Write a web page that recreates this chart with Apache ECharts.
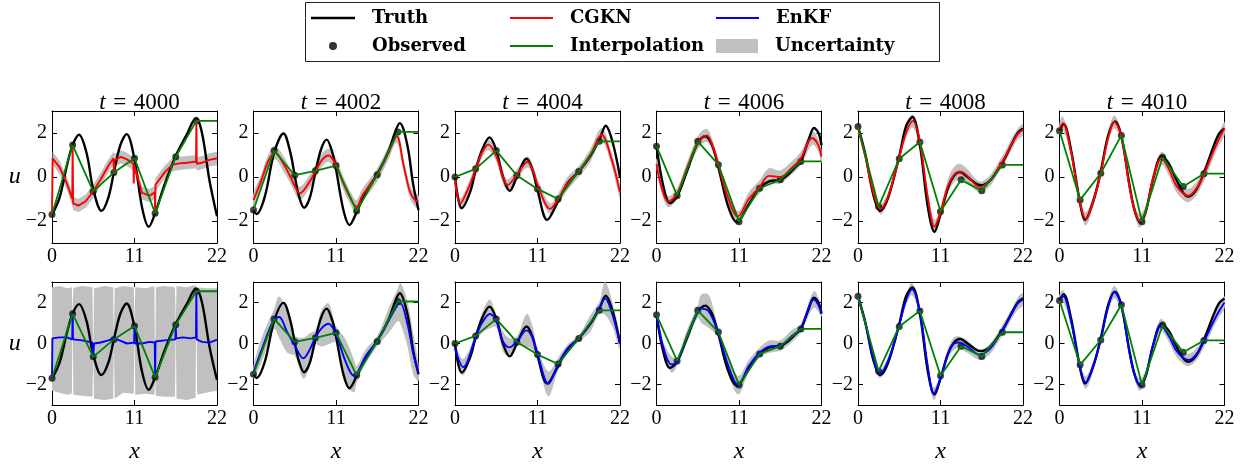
<!DOCTYPE html>
<html><head><meta charset="utf-8">
<script src="https://cdn.jsdelivr.net/npm/echarts@6/dist/echarts.min.js"></script>
<style>html,body{margin:0;padding:0;background:#fff}#c{width:1247px;height:465px}</style>
</head><body><div id="c"></div>
<script>
// ---------------- DATA ----------------
const times = [4000, 4002, 4004, 4006, 4008, 4010];
const xTicks = [0, 11, 22];
const yTicks = [-2, 0, 2];
const xMax = 22;
const obsX = [0, 2.75, 5.5, 8.25, 11, 13.75, 16.5, 19.25];

const obs4000 = [-1.7, 1.45, -0.65, 0.2, 0.85, -1.65, 0.92, 2.55];
const obs4002 = [-1.5, 1.2, 0.08, 0.28, 0.52, -1.55, 0.1, 2.05];
const obs4004 = [0.0, 0.37, 1.2, 0.07, -0.54, -1.0, 0.25, 1.62];
const obs4006 = [1.4, -0.85, 1.62, 0.56, -2.03, -0.51, -0.13, 0.71];
const obs4008 = [2.3, -1.35, 0.83, 1.59, -1.57, -0.13, -0.63, 0.55];
const obs4010 = [2.1, -1.04, 0.17, 1.89, -2.03, 0.9, -0.43, 0.15];

const truth4000 = [[0,-1.72],[1,-0.95],[2,0.54],[2.75,1.45],[3.6,1.92],[4.6,1.1],[5.5,-0.55],[6.6,-1.54],[7.5,-0.95],[8.25,0.2],[9.1,1.44],[9.95,1.95],[11,0.8],[12,-1.37],[12.9,-2.26],[13.75,-1.65],[15,-0.35],[16.5,0.95],[18,1.95],[19.2,2.68],[20,2.0],[21,-0.16],[22,-1.78]];
const truth4002 = [[0,-1.5],[0.4,-1.68],[1.5,-0.9],[2.75,1.1],[4.0,1.98],[4.9,1.13],[5.5,0.05],[6.0,-0.79],[6.75,-1.4],[7.5,-0.95],[8.25,0.2],[9,1.25],[9.75,1.7],[10.5,1.13],[11,0.35],[12,-1.52],[12.8,-2.18],[13.75,-1.6],[15,-0.66],[16.5,0.13],[18,1.16],[19,2.15],[19.5,2.45],[20.5,1.47],[21.3,-0.36],[22,-1.5]];
const truth4004 = [[0,0.0],[0.9,-1.42],[2,-0.7],[2.75,0.3],[3.6,1.22],[4.6,1.8],[5.5,1.22],[6.4,0.0],[7.3,-0.63],[8.25,0.0],[9.55,0.83],[10.3,0.36],[11,-0.6],[12.3,-1.95],[13.75,-1.1],[15,-0.28],[16.5,0.25],[18,0.93],[19.25,1.7],[20.1,2.33],[21,1.6],[22,0.0]];
const truth4006 = [[0,1.4],[0.9,-0.4],[1.8,-1.19],[2.75,-0.88],[4,0.2],[5.5,1.55],[6.5,1.85],[7.4,1.45],[8.25,0.45],[9.5,-1.28],[10.7,-2.06],[11,-2.03],[12.3,-1.25],[13.75,-0.51],[15,-0.2],[16.5,-0.13],[17.5,0.1],[18.5,0.45],[19.25,0.71],[20.2,1.6],[21,2.23],[21.6,2.0],[22,1.45]];
const truth4008 = [[0,2.3],[1,1.0],[2,-0.75],[2.95,-1.54],[4,-0.96],[5.5,0.95],[6.4,2.3],[7.25,2.73],[8.25,1.45],[9.3,-1.34],[10.2,-2.49],[11,-1.7],[12,-0.5],[12.8,0.05],[13.6,0.22],[14.6,0.0],[16.0,-0.35],[16.5,-0.37],[17.5,-0.2],[18.5,0.25],[19.5,0.8],[20.5,1.5],[21.3,2.0],[22,2.2]];
const truth4010 = [[0,2.1],[0.55,2.41],[1.5,1.3],[2.75,-1.2],[3.4,-1.95],[4.5,-1.1],[5.5,0.25],[6.5,1.9],[7.4,2.53],[8.25,1.84],[9.3,-0.3],[10,-1.5],[10.75,-2.06],[11.5,-1.58],[12.5,-0.06],[13.6,0.93],[14.6,0.6],[15.5,-0.07],[16.5,-0.72],[17.2,-0.89],[18.2,-0.6],[19.25,0.17],[20.5,1.36],[21.3,1.98],[22,2.2]];

// estimates: [x, mean, sd]  (sd null = assimilation spike, not part of the band)
const cgkn4000 = [[0,-1.7,null],[0.08,0.85,0.3],[1,0.45,0.3],[2,-0.3,0.3],[2.7,-1.0,0.3],[2.75,1.45,null],[2.82,-1.2,0.3],[3.5,-1.3,0.3],[4.5,-1.1,0.3],[5.5,-0.65,0.3],[6.5,-0.1,0.3],[7.5,0.5,0.3],[8.2,0.85,0.3],[8.25,0.2,null],[8.3,0.75,0.3],[9.2,0.92,0.3],[10,0.8,0.3],[10.85,0.6,0.3],[10.9,-0.3,null],[10.95,0.55,0.3],[12,-0.72,0.3],[13,-0.85,0.3],[13.7,-0.7,0.3],[13.75,-1.65,null],[13.8,-0.35,0.3],[15,0.2,0.3],[16,0.55,0.3],[17,0.62,0.3],[18,0.65,0.3],[19.2,0.7,0.3],[19.25,2.55,null],[19.3,0.6,0.3],[20,0.65,0.3],[21,0.78,0.3],[22,0.85,0.3]];
const cgkn4002 = [[0,-1.05,0.3],[1,-0.2,0.3],[2,0.75,0.3],[2.9,1.1,0.3],[4,0.6,0.35],[5,-0.05,0.3],[5.4,-0.35,0.3],[6.2,-0.74,0.3],[7.5,-0.2,0.3],[8.25,0.25,0.3],[9.2,0.8,0.3],[10,0.98,0.3],[11,0.55,0.3],[12,-0.3,0.3],[13.3,-1.2,0.3],[13.75,-1.35,0.3],[14.5,-0.85,0.3],[16.5,0.1,0.3],[18,1.1,0.3],[19.1,1.85,0.3],[20,0.55,0.3],[20.85,-0.66,0.3],[21.5,-1.04,0.3],[22,-1.12,0.3]];
const cgkn4004 = [[0,-0.13,0.25],[0.7,-1.2,0.25],[1.8,-0.5,0.25],[2.75,0.35,0.25],[3.6,1.1,0.25],[4.45,1.47,0.25],[5.5,0.95,0.25],[6.3,0.1,0.3],[7.0,-0.36,0.25],[8.25,0.1,0.25],[9.65,0.68,0.25],[10.5,0.2,0.25],[11,-0.35,0.25],[12.7,-1.45,0.25],[13.75,-1.0,0.25],[15,-0.3,0.3],[16.5,0.25,0.25],[18,0.95,0.3],[19.55,1.92,0.3],[20.8,0.9,0.3],[22,-0.69,0.3]];
const cgkn4006 = [[0,0.6,0.25],[0.7,-0.5,0.25],[1.55,-1.12,0.25],[2.75,-0.75,0.25],[4,0.35,0.25],[5.5,1.55,0.3],[6.7,1.89,0.3],[7.6,1.3,0.25],[8.25,0.55,0.25],[9.5,-0.9,0.25],[10.85,-1.8,0.25],[12.3,-1.0,0.3],[13.75,-0.45,0.3],[15,0.05,0.35],[16.5,0.0,0.3],[18,0.4,0.3],[19.25,0.85,0.3],[20.75,1.77,0.3],[21.5,1.5,0.3],[22,0.93,0.3]];
const cgkn4008 = [[0,2.25,0.2],[1,0.9,0.2],[2,-0.65,0.2],[3,-1.45,0.25],[4,-0.9,0.2],[5.5,0.9,0.2],[6.4,2.0,0.25],[7.3,2.55,0.3],[8.25,1.6,0.25],[9.3,-0.9,0.25],[10.2,-2.25,0.3],[11,-1.6,0.25],[12,-0.4,0.3],[12.8,0.1,0.35],[13.6,0.25,0.35],[14.6,0.05,0.3],[16.2,-0.45,0.25],[17.5,-0.2,0.25],[18.5,0.3,0.25],[19.5,0.85,0.25],[20.5,1.5,0.25],[21.3,1.95,0.25],[22,2.15,0.25]];
const cgkn4010 = [[0,2.2,0.25],[0.45,2.45,0.3],[1.5,1.2,0.25],[2.75,-1.2,0.25],[3.5,-1.9,0.3],[4.5,-1.1,0.25],[5.5,0.2,0.25],[6.5,1.8,0.25],[7.3,2.5,0.3],[8.25,1.85,0.25],[9.3,-0.4,0.25],[10,-1.5,0.25],[10.7,-2.0,0.3],[11.5,-1.55,0.25],[12.5,-0.05,0.25],[13.6,0.85,0.3],[14.6,0.35,0.3],[15.5,-0.35,0.3],[16.5,-0.75,0.3],[17.2,-0.85,0.3],[18.2,-0.55,0.3],[19.25,0.1,0.3],[20.5,1.15,0.3],[21.3,1.75,0.3],[22,2.2,0.3]];

const enkf4000 = [[0,-1.7,null],[0.05,0.25,null],[1,0.3,null],[2,0.3,null],[2.7,0.2,null],[2.75,1.45,null],[2.8,0.2,null],[4,0.15,null],[5.4,0.05,null],[5.5,-0.6,null],[5.6,0.0,null],[6.5,0.05,null],[7.5,0.15,null],[8.25,0.25,null],[9,0.15,null],[10,0.0,null],[10.95,0.04,null],[11,0.85,null],[11.05,0.0,null],[12,0.0,null],[13,0.08,null],[13.7,0.05,null],[13.75,-1.65,null],[13.8,0.1,null],[15,0.15,null],[16.45,0.2,null],[16.5,0.9,null],[16.55,0.25,null],[17.5,0.3,null],[18.5,0.25,null],[19.2,0.3,null],[19.25,2.55,null],[19.3,0.2,null],[20,0.08,null],[21,0.04,null],[22,0.19,null]];
// explicit band [x, low, high] for the t=4000 EnKF ensemble spread
const enkfBand4000 = [[0,-2.3,2.75],[1,-2.4,2.8],[2,-2.5,2.7],[2.65,-2.45,2.75],[2.75,1.45,1.45],[2.85,-2.5,2.72],[4,-2.55,2.8],[5.4,-2.6,2.75],[5.5,-0.6,-0.6],[5.6,-2.7,2.7],[7,-2.75,2.8],[8.15,-2.7,2.75],[8.25,0.2,0.2],[8.35,-2.7,2.7],[9.5,-2.4,2.8],[10.9,-2.45,2.75],[11,0.85,0.85],[11.1,-2.5,2.75],[12.5,-2.45,2.7],[13.65,-2.5,2.8],[13.75,-1.65,-1.65],[13.85,-2.55,2.75],[15,-2.6,2.8],[16.4,-2.6,2.75],[16.5,0.9,0.9],[16.6,-2.7,2.8],[18,-2.75,2.75],[19.15,-2.65,2.85],[19.25,2.55,2.55],[19.35,-2.5,2.75],[20.5,-2.4,2.7],[22,-2.3,2.7]];
const enkf4002 = [[0,-1.4,0.3],[1.2,-0.2,0.6],[2.75,1.2,0.5],[3.4,1.29,1.0],[4.5,0.55,1.0],[5.5,-0.1,0.5],[6.65,-0.72,1.0],[7.5,-0.3,0.8],[8.25,0.3,0.35],[9.1,0.75,0.9],[10,0.96,1.0],[11,0.45,0.4],[12.3,-0.9,1.1],[13.4,-1.58,0.8],[13.75,-1.5,0.4],[15,-0.6,0.35],[16.5,0.12,0.25],[18,1.1,0.6],[19.25,1.9,0.8],[19.6,1.95,1.0],[20.5,1.0,1.1],[21.3,-0.5,1.0],[22,-1.43,0.4]];
const enkf4004 = [[0,-0.22,0.15],[1.1,-1.15,0.4],[2.75,0.3,0.2],[3.6,1.0,0.5],[4.65,1.44,0.7],[5.5,1.1,0.3],[6.4,0.1,0.5],[7.25,-0.19,0.45],[8.25,0.1,0.25],[9.55,0.64,0.8],[10.3,0.3,0.6],[11,-0.5,0.3],[12.45,-1.96,0.6],[13.75,-1.0,0.3],[15,-0.25,0.2],[16.5,0.25,0.15],[18,0.95,0.4],[19.25,1.75,0.3],[20,2.2,0.8],[21,1.4,0.6],[22,0.0,0.3]];
const enkf4006 = [[0,1.37,0.2],[1,-0.3,0.3],[2,-1.02,0.4],[2.75,-0.9,0.2],[4,0.3,0.3],[5.5,1.55,0.3],[6.0,1.7,0.7],[7.0,1.55,0.8],[8.25,0.5,0.2],[9.5,-1.0,0.4],[10.9,-2.03,0.45],[12.3,-1.1,0.3],[13.75,-0.45,0.25],[15,-0.15,0.3],[16.5,-0.1,0.25],[18,0.35,0.3],[19.25,0.75,0.2],[21,2.15,0.4],[22,1.52,0.2]];
const enkf4008 = [[0,2.3,0.2],[1,0.95,0.2],[2,-0.65,0.2],[2.9,-1.48,0.2],[4,-0.85,0.2],[5.5,0.9,0.2],[6.4,2.1,0.25],[7.2,2.65,0.3],[8.25,1.55,0.2],[9.3,-1.1,0.3],[10.1,-2.45,0.3],[11,-1.7,0.2],[12,-0.5,0.25],[12.8,0.0,0.3],[13.5,0.05,0.3],[14.6,-0.15,0.3],[16.2,-0.55,0.25],[17.5,-0.3,0.25],[18.5,0.2,0.25],[19.5,0.8,0.25],[20.5,1.45,0.25],[21.3,1.95,0.3],[22,2.15,0.3]];
const enkf4010 = [[0,2.15,0.25],[0.5,2.3,0.3],[1.5,1.15,0.25],[2.75,-1.2,0.25],[3.5,-1.9,0.3],[4.5,-1.1,0.25],[5.5,0.2,0.2],[6.5,1.8,0.25],[7.3,2.5,0.3],[8.25,1.85,0.25],[9.3,-0.4,0.25],[10,-1.5,0.25],[10.7,-2.0,0.3],[11.5,-1.55,0.25],[12.5,-0.05,0.25],[13.5,0.9,0.3],[14.6,0.35,0.3],[15.5,-0.3,0.3],[16.5,-0.7,0.3],[17.2,-0.8,0.3],[18.2,-0.55,0.3],[19.25,0.1,0.3],[20.5,1.05,0.3],[21.3,1.6,0.3],[22,2.0,0.3]];

const legendNames = ['Truth', 'CGKN', 'EnKF', 'Observed', 'Interpolation', 'Uncertainty'];

// ---------------- BUILD ----------------
const obsAll = [obs4000, obs4002, obs4004, obs4006, obs4008, obs4010];
const truthAll = [truth4000, truth4002, truth4004, truth4006, truth4008, truth4010];
const cgknAll = [cgkn4000, cgkn4002, cgkn4004, cgkn4006, cgkn4008, cgkn4010];
const enkfAll = [enkf4000, enkf4002, enkf4004, enkf4006, enkf4008, enkf4010];
const enkfBandOverride = {0: enkfBand4000};

const SERIF = 'Liberation Serif';
const BOLD = 'DejaVu Serif';
const colLeft = [52, 253.5, 455, 656.5, 858, 1059.5];
const rowTop = [111, 282];
const GW = 165, GH = 132;
const fmt = v => v < 0 ? '\u2212' + Math.abs(v) : String(v);

const grid = [], xAxis = [], yAxis = [], series = [], title = [];

function bandFrom(est) {
  return est.filter(p => p[2] !== null).map(p => [p[0], p[1] - p[2], p[1] + p[2]]);
}

function bandSeries(g, band, smooth) {
  return {
    type: 'custom', name: 'Uncertainty', coordinateSystem: 'cartesian2d',
    xAxisIndex: 2 * g, yAxisIndex: 2 * g, data: band, z: 1, silent: true, clip: true,
    encode: {x: 0, y: [1, 2]},
    renderItem: function (params, api) {
      if (params.dataIndex !== 0) return null;
      const up = band.map(p => api.coord([p[0], p[2]]));
      const lo = band.map(p => api.coord([p[0], p[1]])).reverse();
      return {type: 'polygon', shape: {points: up.concat(lo), smooth: smooth},
              style: {fill: '#c0c0c0', stroke: null}};
    }
  };
}

for (let r = 0; r < 2; r++) {
  for (let c = 0; c < 6; c++) {
    const g = r * 6 + c;
    grid.push({left: colLeft[c], top: rowTop[r], width: GW, height: GH});
    const axLine = {show: true, onZero: false, lineStyle: {color: '#000', width: 1}};
    const tick = {show: true, inside: true, length: 5, lineStyle: {color: '#000', width: 1}};
    xAxis.push({gridIndex: g, type: 'value', min: 0, max: xMax, interval: 11, position: 'bottom',
      axisLine: axLine, axisTick: tick, splitLine: {show: false},
      axisLabel: {show: true, margin: 4, fontFamily: SERIF, fontSize: 20, color: '#000', formatter: fmt, customValues: xTicks},
      name: r === 1 ? 'x' : '', nameLocation: 'middle', nameGap: 35,
      nameTextStyle: {fontFamily: SERIF, fontStyle: 'italic', fontSize: 24, color: '#000'}});
    xAxis.push({gridIndex: g, type: 'value', min: 0, max: xMax, interval: 11, position: 'top',
      axisLine: axLine, axisTick: tick, splitLine: {show: false}, axisLabel: {show: false}});
    yAxis.push({gridIndex: g, type: 'value', min: -3, max: 3, position: 'left',
      axisLine: axLine, axisTick: Object.assign({customValues: yTicks}, tick), splitLine: {show: false},
      axisLabel: {show: true, margin: 5, fontFamily: SERIF, fontSize: 20, color: '#000', formatter: fmt, customValues: yTicks},
      name: c === 0 ? 'u' : '', nameLocation: 'middle', nameRotate: 0, nameGap: 30,
      nameTextStyle: {fontFamily: SERIF, fontStyle: 'italic', fontSize: 24, color: '#000'}});
    yAxis.push({gridIndex: g, type: 'value', min: -3, max: 3, position: 'right',
      axisLine: axLine, axisTick: Object.assign({customValues: yTicks}, tick), splitLine: {show: false},
      axisLabel: {show: false}});

    const est = r === 0 ? cgknAll[c] : enkfAll[c];
    const band = (r === 1 && enkfBandOverride[c]) ? enkfBandOverride[c] : bandFrom(est);
    const spiky = c === 0;
    series.push(bandSeries(g, band, spiky ? 0 : 0.35));
    series.push({type: 'line', name: 'Truth', xAxisIndex: 2 * g, yAxisIndex: 2 * g, data: truthAll[c],
      showSymbol: false, symbol: 'none', smooth: 0.35, z: 2, silent: true,
      lineStyle: {color: '#000', width: 2.4}});
    const obs = obsAll[c];
    series.push({type: 'scatter', name: 'Observed', xAxisIndex: 2 * g, yAxisIndex: 2 * g,
      data: obsX.map((x, i) => [x, obs[i]]), symbolSize: 7, z: 3, silent: true, clip: true,
      itemStyle: {color: '#111'}});
    series.push({type: 'line', name: r === 0 ? 'CGKN' : 'EnKF', xAxisIndex: 2 * g, yAxisIndex: 2 * g,
      data: est.map(p => [p[0], p[1]]), showSymbol: false, symbol: 'none', smooth: spiky ? false : 0.35,
      z: 4, silent: true, lineStyle: {color: r === 0 ? '#ff0000' : '#0000ff', width: 1.9}});
    series.push({type: 'line', name: 'Interpolation', xAxisIndex: 2 * g, yAxisIndex: 2 * g,
      data: obsX.map((x, i) => [x, obs[i]]).concat([[xMax, obs[obs.length - 1]]]),
      showSymbol: false, symbol: 'none', z: 5, silent: true, lineStyle: {color: '#008000', width: 1.8}});
  }
}

times.forEach((t, c) => {
  title.push({text: '{i|t}\u2004=\u2004' + t, left: colLeft[c] + GW / 2, top: 86, textAlign: 'center',
    textStyle: {fontFamily: SERIF, fontSize: 23, fontWeight: 'normal', color: '#000',
      rich: {i: {fontFamily: SERIF, fontStyle: 'italic', fontSize: 23, color: '#000'}}}});
});

const legendPos = [[311, 8], [510, 8], [716, 8], [329, 36], [510, 36], [716, 36]];
const legendIcons = [
  {icon: 'rect', w: 44, h: 2.3, color: '#000', pad: 12},
  {icon: 'rect', w: 43, h: 2, color: '#ff0000', pad: 12},
  {icon: 'rect', w: 43, h: 2, color: '#0000ff', pad: 12},
  {icon: 'circle', w: 8, h: 8, color: '#000', pad: 30},
  {icon: 'rect', w: 43, h: 2, color: '#008000', pad: 12},
  {icon: 'rect', w: 42, h: 14, color: '#c0c0c0', pad: 12}
];
const legend = legendNames.map((n, i) => ({
  left: legendPos[i][0], top: legendPos[i][1], padding: 0, itemGap: 0,
  itemWidth: legendIcons[i].w, itemHeight: legendIcons[i].h, selectedMode: false,
  data: [{name: n, icon: legendIcons[i].icon, itemStyle: {color: legendIcons[i].color, borderWidth: 0}}],
  textStyle: {fontFamily: BOLD, fontWeight: 'bold', fontSize: 18, color: '#000', lineHeight: 20,
    padding: [0, 0, 0, legendIcons[i].pad]}
}));

const chart = echarts.init(document.getElementById('c'), null, {renderer: 'canvas'});
chart.setOption({
  animation: false,
  backgroundColor: '#fff',
  graphic: [{type: 'rect', left: 305, top: 2, z: -10, silent: true,
    shape: {width: 634, height: 59}, style: {fill: '#fff', stroke: '#222', lineWidth: 1}}],
  title, legend, grid, xAxis, yAxis, series
});
</script></body></html>
